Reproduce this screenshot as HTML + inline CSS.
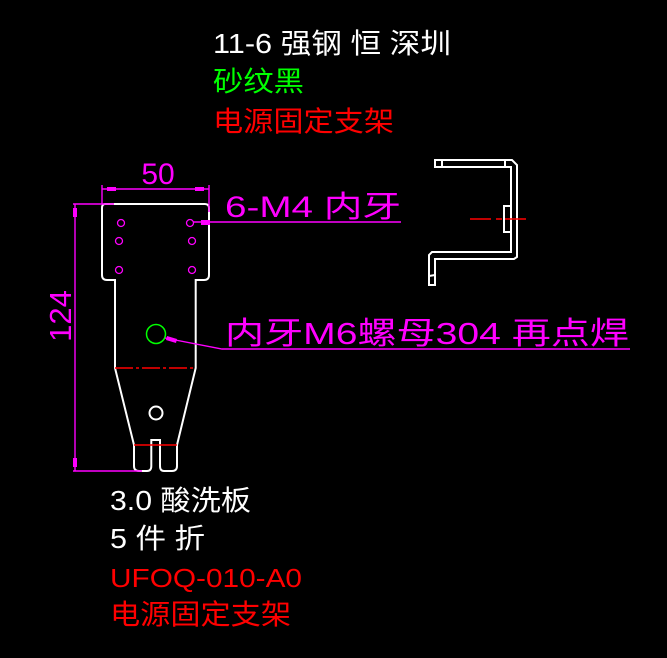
<!DOCTYPE html>
<html><head><meta charset="utf-8"><style>
html,body{margin:0;padding:0;background:#000;width:667px;height:658px;overflow:hidden}
svg{display:block}
text{font-family:"Liberation Sans","Noto Sans CJK SC",sans-serif}
</style></head><body>
<svg width="667" height="658" viewBox="0 0 667 658" xmlns="http://www.w3.org/2000/svg">
<text x="213" y="53" font-size="28" fill="#fff" textLength="238" lengthAdjust="spacingAndGlyphs">11-6 强钢 恒 深圳</text>
<text x="213" y="91" font-size="28" fill="#00ff00" textLength="91" lengthAdjust="spacingAndGlyphs">砂纹黑</text>
<text x="213" y="131" font-size="28" fill="#ff0000" textLength="181" lengthAdjust="spacingAndGlyphs">电源固定支架</text>
<text x="110" y="510" font-size="28" fill="#fff" textLength="141" lengthAdjust="spacingAndGlyphs">3.0 酸洗板</text>
<text x="110" y="548" font-size="28" fill="#fff" textLength="95" lengthAdjust="spacingAndGlyphs">5 件 折</text>
<text x="110" y="587" font-size="26" fill="#ff0000" textLength="192" lengthAdjust="spacingAndGlyphs">UFOQ-010-A0</text>
<text x="110" y="624" font-size="28" fill="#ff0000" textLength="181" lengthAdjust="spacingAndGlyphs">电源固定支架</text>

<g fill="none" stroke="#fff" stroke-width="2">
<path d="M105,204 H205 Q209,204 209,208 V275 Q209,280 204,280 H195.7 V368 L177,445 V466 Q177,471 172,471 H164 Q160,471 160,466 V440 H151.3 V466 Q151.3,471 147,471 H139 Q134,471 134,466 V445 L115,368 V280 H107 Q102,280 102,275 V208 Q102,204 105,204 Z"/>
<circle cx="156" cy="413" r="6.5"/>
</g>
<line x1="115" y1="368" x2="195.7" y2="368" stroke="#ff0000" stroke-width="1.5" stroke-dasharray="18,3,3,3"/>
<line x1="134" y1="445" x2="177" y2="445" stroke="#ff0000" stroke-width="1.5"/>
<circle cx="156" cy="334" r="9.5" fill="none" stroke="#00ff00" stroke-width="1.5"/>
<g fill="none" stroke="#ff00ff" stroke-width="1.3">
<circle cx="121" cy="223" r="3.5"/><circle cx="190" cy="223" r="3.5"/>
<circle cx="119" cy="241" r="3.5"/><circle cx="192" cy="241" r="3.5"/>
<circle cx="119" cy="270" r="3.5"/><circle cx="192" cy="270" r="3.5"/>
</g>

<g stroke="#ff00ff" stroke-width="1.4" fill="none">
<line x1="102" y1="185" x2="102" y2="204"/>
<line x1="209" y1="185" x2="209" y2="212"/>
<line x1="102" y1="189" x2="209" y2="189"/>
<line x1="73" y1="204" x2="114" y2="204"/>
<line x1="73" y1="471" x2="142" y2="471"/>
<line x1="75" y1="204" x2="75" y2="471"/>
<line x1="193" y1="222" x2="401" y2="222"/>
<polyline points="165,338 222,349 630,349"/>
</g>
<g fill="#ff00ff">
<rect x="107" y="187" width="9" height="4"/><rect x="195" y="187" width="9" height="4"/>
<rect x="73" y="208" width="4" height="9"/><rect x="73" y="458" width="4" height="9"/>
<rect x="201" y="220" width="9" height="5"/>
<polygon points="167,336 177,339 176,343 166,340"/>
</g>
<text x="158" y="184" font-size="30" fill="#ff00ff" text-anchor="middle">50</text>
<text transform="translate(71,316) rotate(-90)" font-size="31" fill="#ff00ff" text-anchor="middle">124</text>
<text x="225" y="217" font-size="30" fill="#ff00ff" textLength="176" lengthAdjust="spacingAndGlyphs">6-M4 内牙</text>
<text x="225" y="344" font-size="31" fill="#ff00ff" textLength="404" lengthAdjust="spacingAndGlyphs">内牙M6螺母304  再点焊</text>

<g fill="none" stroke="#fff" stroke-width="2">
<path d="M435,160 H512 L517,165 V257 L514,259 H435 V285 H429 V255 L432,252 H511 V167 H435 Z"/>
<line x1="442" y1="160" x2="442" y2="166.5"/>
<line x1="505" y1="160" x2="505" y2="166.5"/>
<rect x="504" y="206" width="7" height="26"/>
<line x1="429" y1="276" x2="435" y2="275"/>
</g>
<line x1="470" y1="219" x2="529" y2="219" stroke="#ff0000" stroke-width="1.4" stroke-dasharray="21,5,6,3"/>
</svg>
</body></html>
